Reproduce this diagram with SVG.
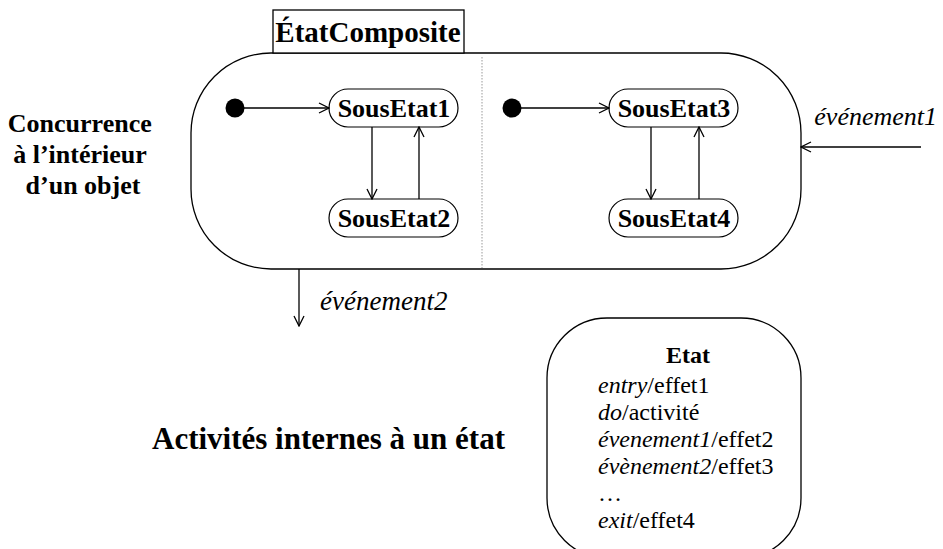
<svg xmlns="http://www.w3.org/2000/svg" width="943" height="549" viewBox="0 0 943 549">
<defs>
<marker id="arr" markerWidth="12" markerHeight="12" refX="11" refY="6" orient="auto" markerUnits="userSpaceOnUse">
<path d="M1,1 L11,6 L1,11" fill="none" stroke="#000" stroke-width="1.3"/>
</marker>
<style>
text{fill:#000;font-family:"Liberation Serif","Times New Roman",serif}
.b{font-weight:bold}
.i{font-style:italic}
.shape{fill:#fff;stroke:#000;stroke-width:1.3}
.pill{fill:#fff;stroke:#000;stroke-width:1.2}
.conn{fill:none;stroke:#000;stroke-width:1.3;marker-end:url(#arr)}
.st{font-size:26px;font-weight:bold;text-anchor:middle}
.act{font-size:24px}
</style>
</defs>
<rect width="943" height="549" fill="#fff"/>

<g id="composite">
<rect class="shape" x="191" y="53" width="610" height="216" rx="80" ry="80"/>
<line x1="482" y1="57" x2="482" y2="268" stroke="#999" stroke-width="1" stroke-dasharray="1.5,1.5"/>
</g>
<g id="composite-tab">
<rect class="shape" x="273" y="10" width="191" height="43"/>
<text class="b" x="368" y="42" font-size="29" text-anchor="middle">ÉtatComposite</text>
</g>

<g id="init1"><circle cx="235" cy="108" r="9.5" fill="#000"/></g>
<g id="init2"><circle cx="512" cy="108" r="9.5" fill="#000"/></g>

<g id="sousetat1">
<rect class="pill" x="329" y="89" width="129" height="38" rx="19" ry="19"/>
<text class="st" x="394" y="117">SousEtat1</text>
</g>
<g id="sousetat2">
<rect class="pill" x="329" y="199" width="129" height="38" rx="19" ry="19"/>
<text class="st" x="394" y="227">SousEtat2</text>
</g>
<g id="sousetat3">
<rect class="pill" x="609" y="89" width="129" height="38" rx="19" ry="19"/>
<text class="st" x="674" y="117">SousEtat3</text>
</g>
<g id="sousetat4">
<rect class="pill" x="609" y="199" width="129" height="38" rx="19" ry="19"/>
<text class="st" x="674" y="227">SousEtat4</text>
</g>

<g id="connectors">
<line class="conn" x1="244" y1="108" x2="329" y2="108"/>
<line class="conn" x1="372" y1="127" x2="372" y2="199"/>
<line class="conn" x1="419" y1="199" x2="419" y2="127"/>
<line class="conn" x1="521" y1="108" x2="609" y2="108"/>
<line class="conn" x1="651" y1="127" x2="651" y2="199"/>
<line class="conn" x1="699" y1="199" x2="699" y2="127"/>
<line class="conn" x1="921" y1="147" x2="801" y2="147"/>
<line class="conn" x1="299" y1="269" x2="299" y2="326"/>
</g>

<g id="labels">
<text class="i" x="937" y="125" font-size="26" text-anchor="end">événement1</text>
<text class="i" x="320" y="310" font-size="27">événement2</text>
<text class="b" font-size="26" text-anchor="middle">
<tspan x="83" y="132">Concurrence</tspan>
<tspan x="83" y="163">à l’intérieur</tspan>
<tspan x="83" y="194">d’un objet</tspan>
</text>
<text class="b" x="152" y="449" font-size="31">Activités internes à un état</text>
</g>

<g id="etat">
<rect class="shape" x="547" y="318" width="254" height="240" rx="60" ry="60"/>
<text class="b" x="688" y="363" font-size="24" text-anchor="middle">Etat</text>
<text class="act" x="598" y="393"><tspan class="i">entry</tspan>/effet1</text>
<text class="act" x="598" y="420"><tspan class="i">do</tspan>/activité</text>
<text class="act" x="598" y="447"><tspan class="i">évenement1</tspan>/effet2</text>
<text class="act" x="598" y="474"><tspan class="i">évènement2</tspan>/effet3</text>
<text class="act" x="598" y="501">…</text>
<text class="act" x="598" y="528"><tspan class="i">exit</tspan>/effet4</text>
</g>
</svg>
